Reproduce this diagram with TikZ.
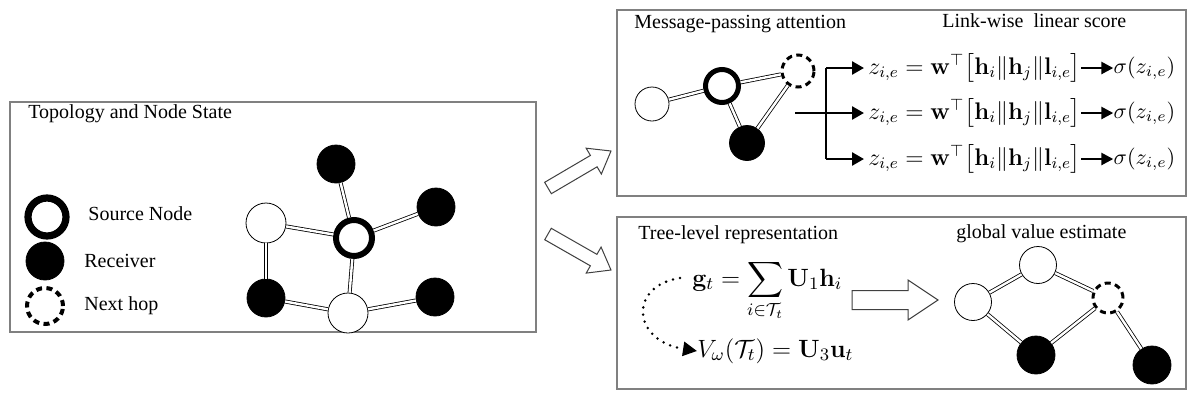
\RequirePackage{fix-cm}
\documentclass[tikz,border=0pt]{standalone}
\usepackage{amsmath,amssymb}
\usepackage[no-math]{fontspec}
\setmainfont{Liberation Serif}
\usetikzlibrary{arrows.meta,calc}

% hollow block arrow from #1 to #2: shaft half-width #3, head half-width #4, head length #5
\newcommand\hollowarr[5]{%
  \coordinate (hn) at ($(#2)!#5!(#1)$);
  \draw[harr] ($(#1)!#3!90:(#2)$) -- ($(hn)!#3!90:(#2)$) -- ($(hn)!#4!90:(#2)$) -- (#2)
     -- ($(hn)!#4!-90:(#2)$) -- ($(hn)!#3!-90:(#2)$) -- ($(#1)!#3!-90:(#2)$) -- cycle;}

\newcommand\zform{$z_{i,e}=\mathbf{w}^{\top}\bigl[\mathbf{h}_i\|\mathbf{h}_j\|\mathbf{l}_{i,e}\bigr]$}
\newcommand\sform{$\sigma(z_{i,e})$}

\begin{document}
\begin{tikzpicture}[x=0.5pt,y=-0.5pt,
  panel/.style={draw=black!50, line width=0.9pt},
  lbl/.style={font=\fontsize{10}{12}\selectfont, anchor=west, inner sep=0pt},
  mth/.style={font=\fontsize{12.5}{14}\selectfont, inner sep=0pt, anchor=base west},
  zmth/.style={font=\fontsize{12}{14}\selectfont, inner sep=0pt, anchor=base west},
  smth/.style={font=\fontsize{11}{13}\selectfont, inner sep=0pt, anchor=base west},
  blk/.style={circle, fill=black, draw=black, line width=0.4pt, inner sep=0pt, minimum size=#1},
  wht/.style={circle, draw=black, line width=0.4pt, fill=white, inner sep=0pt, minimum size=#1},
  src/.style 2 args={circle, draw=black, line width=#2, fill=white, inner sep=0pt, minimum size=#1},
  nxt/.style 2 args={circle, draw=black, line width=#2, dash pattern=on 3pt off 2.2pt, fill=white, inner sep=0pt, minimum size=#1},
  dbl/.style={draw=black, line width=0.4pt, double=white, double distance=1.2pt},
  barr/.style={line width=1.3pt, -{Triangle[length=6pt,width=6.5pt]}},
  sarr/.style={line width=1.3pt, -{Triangle[length=6pt,width=6pt]}},
  dots/.style={line width=1.4pt, line cap=round, dash pattern=on 0pt off 3.6pt, -{Triangle[length=7pt,width=7pt]}},
  harr/.style={draw=black!75, line width=0.5pt, fill=white, line join=miter}
]
\useasboundingbox (0,0) rectangle (1196,398);
\fill[white] (0,0) rectangle (1196,398);

% panels
\draw[panel] (10,102) rectangle (536,332);
\draw[panel] (617,10) rectangle (1186,196);
\draw[panel] (617,217) rectangle (1186,389);

% ---------- left panel ----------
\node[lbl] (t1) at (28,114) {Topology and Node State};

\node[src={19pt}{3.6pt}] (LS) at (47,217) {};
\node[lbl] (LSt) at (88,214) {Source Node};
\node[blk=19pt] (LR) at (45,261) {};
\node[lbl] (LRt) at (84,261) {Receiver};
\node[nxt={18pt}{2pt}] (LN) at (45,306) {};
\node[lbl] (LNt) at (84,306) {Next hop};

\node[blk=19pt] (A) at (336,164) {};
\node[blk=19pt] (B) at (436,207) {};
\node[wht=20pt] (C) at (266,223) {};
\node[src={18pt}{3pt}] (S) at (354,238) {};
\node[blk=19pt] (D) at (266,298) {};
\node[wht=20pt] (E) at (348,313) {};
\node[blk=19pt] (F) at (435,297) {};
\draw[dbl] (C) -- (S);
\draw[dbl] (A) -- (S);
\draw[dbl] (S) -- (B);
\draw[dbl] (C) -- (D);
\draw[dbl] (S) -- (E);
\draw[dbl] (D) -- (E);
\draw[dbl] (E) -- (F);

% arrows between panels
\coordinate (ua1) at (548,188);
\coordinate (ua2) at (611,151);
\coordinate (da1) at (548,234);
\coordinate (da2) at (611,270);
\hollowarr{ua1}{ua2}{3.3pt}{7.5pt}{10pt}
\hollowarr{da1}{da2}{3.3pt}{7.5pt}{10pt}

% ---------- top right panel ----------
\node[lbl] (t2) at (634,24) {Message-passing attention};
\node[lbl] (t3) at (942,21) {Link-wise\ \ linear score};

\node[wht=17pt] (a1) at (652,104) {};
\node[src={16.5pt}{2.5pt}] (a2) at (722,86) {};
\node[nxt={16pt}{1.5pt}] (a3) at (798,71) {};
\node[blk=17.5pt] (a4) at (747,143) {};
\draw[dbl] (a1) -- (a2);
\draw[dbl] (a2) -- (a3);
\draw[dbl] (a2) -- (a4);
\draw[dbl] (a4) -- (a3);

\node[zmth] (z1) at (868,74) {\zform};
\node[zmth] (z2) at (868,119) {\zform};
\node[zmth] (z3) at (868,165) {\zform};
\node[smth] (s1) at ([xshift=16pt,yshift=0.5pt]z1.base east) {\sform};
\node[smth] (s2) at ([xshift=16pt,yshift=0.5pt]z2.base east) {\sform};
\node[smth] (s3) at ([xshift=16pt,yshift=0.5pt]z3.base east) {\sform};

\coordinate (bs) at (795,113);
\coordinate (bt) at (826,68);
\coordinate (bb) at (826,159);
\draw[line width=1.3pt] (bt) -- (bb);
\draw[barr] (bs) -- ([xshift=-2pt,yshift=3pt]z2.base west);
\draw[barr] (bt) -- ([xshift=-2pt,yshift=3pt]z1.base west);
\draw[barr] (bb) -- ([xshift=-2pt,yshift=3pt]z3.base west);
\draw[sarr] ([yshift=3pt]z1.base east) -- ([yshift=2.5pt]s1.base west);
\draw[sarr] ([yshift=3pt]z2.base east) -- ([yshift=2.5pt]s2.base west);
\draw[sarr] ([yshift=3pt]z3.base east) -- ([yshift=2.5pt]s3.base west);

% ---------- bottom right panel ----------
\node[lbl] (t4) at (638,235) {Tree-level representation};
\node[lbl] (t5) at (956,234) {global value estimate};

\node[mth] (g) at (692,286) {$\displaystyle \mathbf{g}_t=\sum_{i\in\mathcal{T}_t}\mathbf{U}_1\mathbf{h}_i$};
\node[mth] (V) at (697,357) {$V_\omega(\mathcal{T}_t)=\mathbf{U}_3\mathbf{u}_t$};
\draw[dots] ([xshift=-6pt,yshift=4pt]g.base west) .. controls (628,286) and (632,341) .. ([yshift=3pt]V.base west);

\coordinate (ha1) at (852,300);
\coordinate (ha2) at (938,300);
\hollowarr{ha1}{ha2}{4.75pt}{10pt}{15pt}

\node[wht=18.5pt] (b1) at (1038,265) {};
\node[wht=18.5pt] (b2) at (973,302) {};
\node[nxt={15pt}{1.5pt}] (b3) at (1108,298) {};
\node[blk=19pt] (b4) at (1036,355) {};
\node[blk=19pt] (b5) at (1152,365) {};
\draw[dbl] (b2) -- (b1);
\draw[dbl] (b1) -- (b3);
\draw[dbl] (b2) -- (b4);
\draw[dbl] (b4) -- (b3);
\draw[dbl] (b3) -- (b5);
\end{tikzpicture}
\end{document}
